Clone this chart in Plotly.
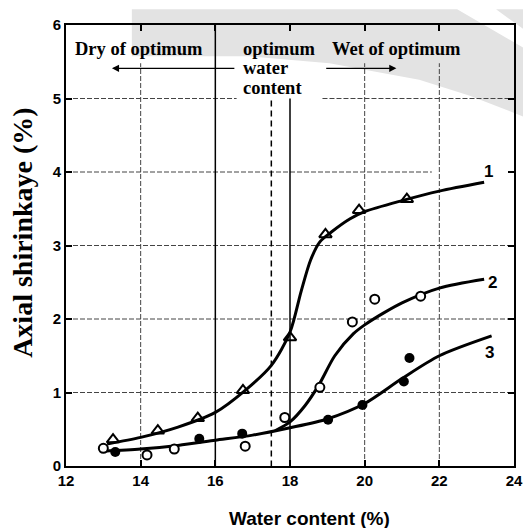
import plotly.graph_objects as go

# ---- data ----
tri_x = [13.26, 14.46, 15.53, 16.74, 18.0, 18.95, 19.85, 21.13]
tri_y = [0.36, 0.48, 0.65, 1.03, 1.75, 3.15, 3.48, 3.63]

open_x = [13.0, 14.17, 14.9, 16.8, 17.86, 18.8, 19.67, 20.27, 21.5]
open_y = [0.24, 0.15, 0.23, 0.27, 0.66, 1.07, 1.96, 2.27, 2.31]

fill_x = [13.32, 15.57, 16.72, 19.02, 19.94, 21.05, 21.2]
fill_y = [0.19, 0.37, 0.44, 0.63, 0.83, 1.15, 1.47]

curve1_x = [13.1, 14.0, 15.0, 16.0, 16.8, 17.5, 18.0, 18.3, 18.55, 18.8, 19.1, 19.6, 20.0, 21.0, 22.0, 23.2]
curve1_y = [0.30, 0.39, 0.53, 0.73, 1.03, 1.37, 1.82, 2.38, 2.80, 3.05, 3.18, 3.36, 3.46, 3.61, 3.74, 3.86]

curve2_x = [17.6, 18.0, 18.4, 18.77, 19.2, 19.7, 20.0, 20.5, 21.0, 22.0, 23.2]
curve2_y = [0.48, 0.60, 0.82, 1.10, 1.50, 1.80, 1.92, 2.08, 2.22, 2.42, 2.54]

curve3_x = [13.0, 14.0, 15.0, 16.0, 17.0, 18.0, 19.0, 20.0, 21.0, 22.0, 23.4]
curve3_y = [0.20, 0.23, 0.28, 0.35, 0.42, 0.52, 0.64, 0.85, 1.19, 1.50, 1.77]

curve_labels = ["1", "2", "3"]
label_x = [23.31, 23.42, 23.34]
label_y = [4.01, 2.49, 1.55]

x_ticks = [12, 14, 16, 18, 20, 22, 24]
y_ticks = [0, 1, 2, 3, 4, 5, 6]

# ---- figure ----
fig = go.Figure()

for cx, cy in [(curve1_x, curve1_y), (curve2_x, curve2_y), (curve3_x, curve3_y)]:
    fig.add_trace(go.Scatter(x=cx, y=cy, mode="lines",
                             line=dict(color="black", width=3, shape="spline", smoothing=0.8),
                             hoverinfo="skip", showlegend=False))

fig.add_trace(go.Scatter(x=tri_x, y=tri_y, mode="markers",
                         marker=dict(symbol="triangle-up-open", size=11, color="black",
                                     line=dict(width=2, color="black")), showlegend=False))
fig.add_trace(go.Scatter(x=open_x, y=open_y, mode="markers",
                         marker=dict(symbol="circle", size=9, color="white",
                                     line=dict(width=2, color="black")), showlegend=False))
fig.add_trace(go.Scatter(x=fill_x, y=fill_y, mode="markers",
                         marker=dict(symbol="circle", size=10, color="black"), showlegend=False))

# ---- grid / reference lines ----
grid_dash = dict(color="#444444", width=1, dash="5px,2px")
shapes = []
for yv in [1, 2, 3]:
    shapes.append(dict(type="line", xref="x", yref="y", x0=12, x1=24, y0=yv, y1=yv, line=grid_dash, layer="below"))
shapes.append(dict(type="line", xref="x", yref="y", x0=12, x1=21.8, y0=4, y1=4, line=grid_dash, layer="below"))
shapes.append(dict(type="line", xref="x", yref="y", x0=12, x1=16.57, y0=5, y1=5, line=grid_dash, layer="below"))
shapes.append(dict(type="line", xref="x", yref="y", x0=18.87, x1=24, y0=5, y1=5, line=grid_dash, layer="below"))
for xv in [14, 20, 22]:
    shapes.append(dict(type="line", xref="x", yref="y", x0=xv, x1=xv, y0=0, y1=5.48, line=grid_dash, layer="below"))
shapes.append(dict(type="line", xref="x", yref="y", x0=16, x1=16, y0=0, y1=6,
                   line=dict(color="black", width=1.5), layer="below"))
shapes.append(dict(type="line", xref="x", yref="y", x0=18, x1=18, y0=0, y1=5,
                   line=dict(color="black", width=1.5), layer="below"))
shapes.append(dict(type="line", xref="x", yref="y", x0=17.5, x1=17.5, y0=-0.28, y1=5,
                   line=dict(color="black", width=1.5, dash="6px,4px"), layer="below"))

# watermark-like light gray band (positions in window pixels -> paper coords)
def px(xp, yp):
    return ((xp - 66) / 449.0, (466 - yp) / 450.0)

band = [(132, 0), (458, 0), (531, 43), (531, 112), (470, 88), (420, 72), (330, 55), (250, 48), (132, 48)]
pts = [px(a, b) for a, b in band]
path = "M " + " L ".join(f"{p[0]:.4f},{p[1]:.4f}" for p in pts) + " Z"
shapes.append(dict(type="path", xref="paper", yref="paper", path=path,
                   fillcolor="#e3e3e3", line=dict(width=0), layer="below"))
band2 = [(497, 0), (531, 0), (531, 25)]
pts2 = [px(a, b) for a, b in band2]
path2 = "M " + " L ".join(f"{p[0]:.4f},{p[1]:.4f}" for p in pts2) + " Z"
shapes.append(dict(type="path", xref="paper", yref="paper", path=path2,
                   fillcolor="#e3e3e3", line=dict(width=0), layer="below"))

# ---- annotations ----
serif_b = dict(family="Liberation Serif", size=18.5, color="black", weight="bold")
ann = []
ann.append(dict(x=12.19, y=5.68, xref="x", yref="y", text="Dry of optimum", showarrow=False,
                xanchor="left", yanchor="middle", font=serif_b))
ann.append(dict(x=16.7, y=5.68, xref="x", yref="y", text="optimum", showarrow=False,
                xanchor="left", yanchor="middle", font=serif_b))
ann.append(dict(x=16.7, y=5.42, xref="x", yref="y", text="water", showarrow=False,
                xanchor="left", yanchor="middle", font=serif_b))
ann.append(dict(x=16.7, y=5.14, xref="x", yref="y", text="content", showarrow=False,
                xanchor="left", yanchor="middle", font=serif_b))
ann.append(dict(x=19.06, y=5.68, xref="x", yref="y", text="Wet of optimum", showarrow=False,
                xanchor="left", yanchor="middle", font=serif_b))
# arrows
ann.append(dict(x=13.23, y=5.41, ax=16.55, ay=5.41, xref="x", yref="y", axref="x", ayref="y",
                text="", showarrow=True, arrowhead=2, arrowsize=1.1, arrowwidth=1.3, arrowcolor="black"))
ann.append(dict(x=20.85, y=5.41, ax=18.93, ay=5.41, xref="x", yref="y", axref="x", ayref="y",
                text="", showarrow=True, arrowhead=2, arrowsize=1.1, arrowwidth=1.3, arrowcolor="black"))
# curve labels
for t, lx, ly in zip(curve_labels, label_x, label_y):
    ann.append(dict(x=lx, y=ly, xref="x", yref="y", text=t, showarrow=False,
                    font=dict(family="Liberation Sans", size=17, color="black", weight="bold")))
# axis titles
ann.append(dict(x=(310 - 66) / 449.0, y=(466 - 520) / 450.0, xref="paper", yref="paper",
                text="Water content (%)", showarrow=False, xanchor="center", yanchor="middle",
                font=dict(family="Liberation Sans", size=19, color="black", weight="bold")))
ann.append(dict(x=(23 - 66) / 449.0, y=(466 - 228) / 450.0, xref="paper", yref="paper",
                text="Axial shirinkaye (%)", showarrow=False, textangle=-90,
                xanchor="center", yanchor="middle",
                font=dict(family="Liberation Serif", size=28, color="black", weight="bold")))

tick_font = dict(family="Liberation Sans", size=15, color="black", weight="bold")
# the page body has an 8px default margin, so the figure is 8px smaller and margins shifted
fig.update_layout(
    width=523, height=520,
    margin=dict(l=58, r=16, t=8, b=62),
    paper_bgcolor="white", plot_bgcolor="rgba(0,0,0,0)",
    shapes=shapes, annotations=ann, showlegend=False,
    xaxis=dict(range=[12, 24], tickvals=x_ticks, ticktext=[str(v) for v in x_ticks],
               showgrid=False, zeroline=False, showline=True, linecolor="black", linewidth=2,
               mirror="ticks", ticks="inside", ticklen=6, tickwidth=1.5, tickcolor="black",
               tickfont=tick_font, ticklabelstandoff=0),
    yaxis=dict(range=[0, 6], tickvals=y_ticks, ticktext=[str(v) for v in y_ticks],
               showgrid=False, zeroline=False, showline=True, linecolor="black", linewidth=2,
               mirror="ticks", ticks="inside", ticklen=6, tickwidth=1.5, tickcolor="black",
               tickfont=tick_font, ticklabelstandoff=0),
)

fig.write_html("out.html")
